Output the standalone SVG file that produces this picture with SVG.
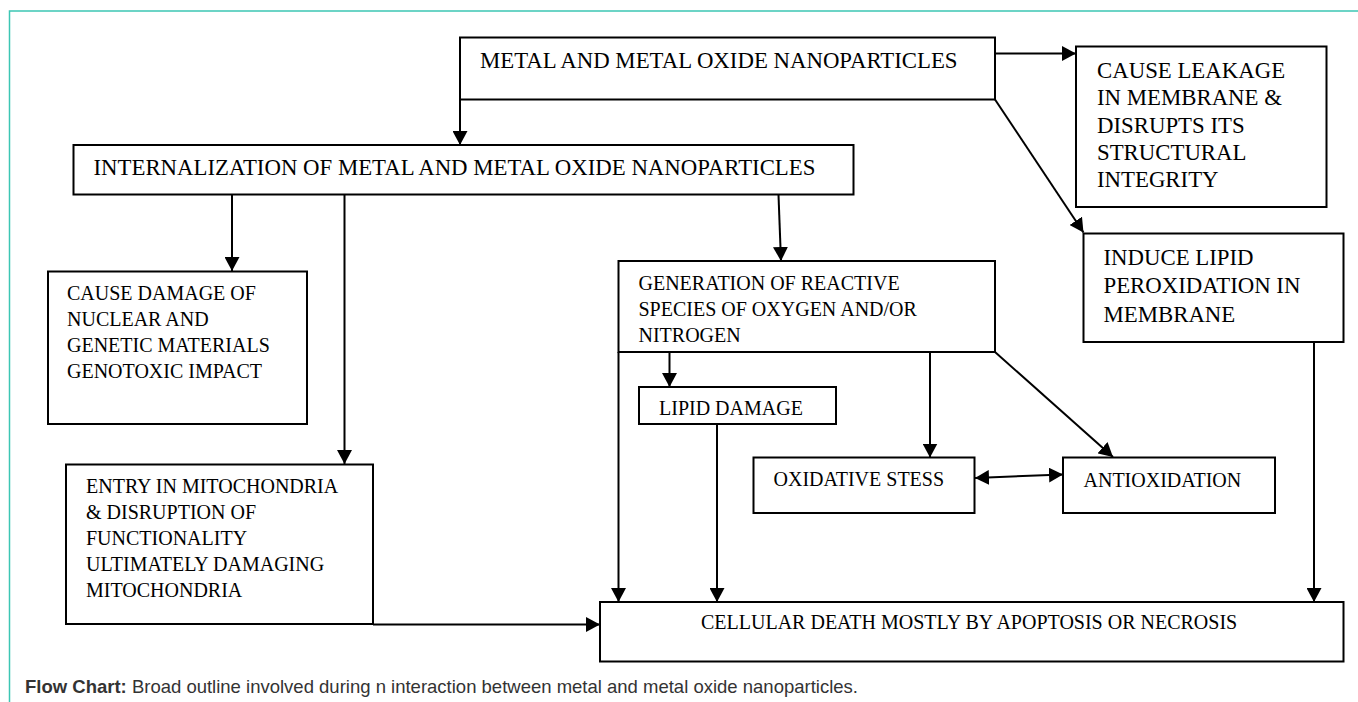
<svg xmlns="http://www.w3.org/2000/svg" width="1358" height="702" viewBox="0 0 1358 702">
<style>
.box{fill:#fff;stroke:#000;stroke-width:2}
.t{font-family:"Liberation Serif","Times New Roman",serif;fill:#000}
.big{font-size:22.8px}
.sm{font-size:20px}
.ln{fill:none;stroke:#000;stroke-width:2}
.cap{font-family:"Liberation Sans",Arial,sans-serif;font-size:18.5px;fill:#333}
</style>
<defs>
<marker id="ah" markerUnits="userSpaceOnUse" markerWidth="15" markerHeight="15" refX="14" refY="7.5" orient="auto-start-reverse" viewBox="0 0 15 15">
<path d="M0,0 L14,7.5 L0,15 z" fill="#000"/>
</marker>
</defs>
<rect width="1358" height="702" fill="#fff"/>
<path d="M9.5,702 V11 H1358" fill="none" stroke="#3cc6b4" stroke-width="1.5"/>

<g id="connectors">
<line class="ln" x1="995" y1="53.5" x2="1076" y2="53.5" marker-end="url(#ah)"/>
<line class="ln" x1="995" y1="99.5" x2="1083.5" y2="232.5" marker-end="url(#ah)"/>
<line class="ln" x1="460" y1="99.5" x2="460" y2="145" marker-end="url(#ah)"/>
<line class="ln" x1="232" y1="195" x2="232" y2="271" marker-end="url(#ah)"/>
<line class="ln" x1="344.5" y1="195" x2="344.5" y2="464" marker-end="url(#ah)"/>
<line class="ln" x1="778.5" y1="195" x2="781" y2="261" marker-end="url(#ah)"/>
<line class="ln" x1="373" y1="624.5" x2="600" y2="624.5" marker-end="url(#ah)"/>
<line class="ln" x1="669.5" y1="352" x2="669.5" y2="387" marker-end="url(#ah)"/>
<line class="ln" x1="618.5" y1="352" x2="618.5" y2="602" marker-end="url(#ah)"/>
<line class="ln" x1="717" y1="424" x2="717" y2="602" marker-end="url(#ah)"/>
<line class="ln" x1="930" y1="352" x2="930" y2="457.5" marker-end="url(#ah)"/>
<line class="ln" x1="995" y1="352" x2="1113" y2="457" marker-end="url(#ah)"/>
<line class="ln" x1="975" y1="478" x2="1063" y2="474.5" marker-start="url(#ah)" marker-end="url(#ah)"/>
<line class="ln" x1="1314" y1="342" x2="1314" y2="602" marker-end="url(#ah)"/>
</g>

<g id="n-metal">
<rect class="box" x="460" y="37.5" width="535" height="62"/>
<text class="t big" x="480" y="68">METAL AND METAL OXIDE NANOPARTICLES</text>
</g>
<g id="n-leakage">
<rect class="box" x="1076" y="46.5" width="250.5" height="160.5"/>
<text class="t big" x="1097" y="77.5">CAUSE LEAKAGE</text>
<text class="t big" x="1097" y="105">IN MEMBRANE &amp;</text>
<text class="t big" x="1097" y="132.5">DISRUPTS ITS</text>
<text class="t big" x="1097" y="160">STRUCTURAL</text>
<text class="t big" x="1097" y="187">INTEGRITY</text>
</g>
<g id="n-internalization">
<rect class="box" x="73.5" y="145" width="780" height="49.5"/>
<text class="t big" x="93.5" y="175">INTERNALIZATION OF METAL AND METAL OXIDE NANOPARTICLES</text>
</g>
<g id="n-lipidperox">
<rect class="box" x="1083.5" y="233.5" width="260" height="108.5"/>
<text class="t big" x="1103.5" y="264.5">INDUCE LIPID</text>
<text class="t big" x="1103.5" y="293">PEROXIDATION IN</text>
<text class="t big" x="1103.5" y="321.5">MEMBRANE</text>
</g>
<g id="n-nuclear">
<rect class="box" x="48" y="271.5" width="259" height="152.5"/>
<text class="t sm" x="67" y="300">CAUSE DAMAGE OF</text>
<text class="t sm" x="67" y="326">NUCLEAR AND</text>
<text class="t sm" x="67" y="352">GENETIC MATERIALS</text>
<text class="t sm" x="67" y="378">GENOTOXIC IMPACT</text>
</g>
<g id="n-ros">
<rect class="box" x="618.5" y="261" width="376.5" height="91"/>
<text class="t sm" x="638.5" y="289.5">GENERATION OF REACTIVE</text>
<text class="t sm" x="638.5" y="316">SPECIES OF OXYGEN AND/OR</text>
<text class="t sm" x="638.5" y="342">NITROGEN</text>
</g>
<g id="n-lipid">
<rect class="box" x="639" y="387" width="197" height="37"/>
<text class="t sm" x="659" y="414.5">LIPID DAMAGE</text>
</g>
<g id="n-oxstress">
<rect class="box" x="753.5" y="457.5" width="221" height="55.5"/>
<text class="t sm" x="773.5" y="486">OXIDATIVE STESS</text>
</g>
<g id="n-antiox">
<rect class="box" x="1063" y="457.5" width="212" height="55.5"/>
<text class="t sm" x="1083.5" y="487">ANTIOXIDATION</text>
</g>
<g id="n-mito">
<rect class="box" x="66" y="464.5" width="307" height="159.5"/>
<text class="t sm" x="86" y="493">ENTRY IN MITOCHONDRIA</text>
<text class="t sm" x="86" y="519">&amp; DISRUPTION OF</text>
<text class="t sm" x="86" y="545">FUNCTIONALITY</text>
<text class="t sm" x="86" y="571">ULTIMATELY DAMAGING</text>
<text class="t sm" x="86" y="597">MITOCHONDRIA</text>
</g>
<g id="n-death">
<rect class="box" x="600" y="602" width="743.5" height="59.5"/>
<text class="t sm" x="701" y="628.5">CELLULAR DEATH MOSTLY BY APOPTOSIS OR NECROSIS</text>
</g>
<text class="cap" x="25" y="693"><tspan font-weight="bold">Flow Chart:</tspan> Broad outline involved during n interaction between metal and metal oxide nanoparticles.</text>
</svg>
